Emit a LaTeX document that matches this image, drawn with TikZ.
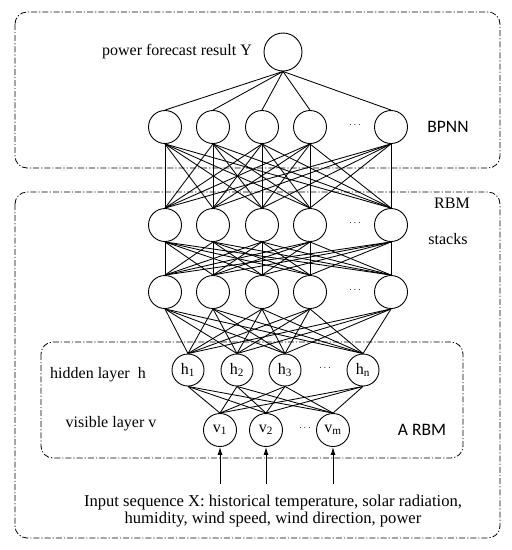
\documentclass[tikz,border=0pt]{standalone}
\usepackage{fontspec}
\setmainfont{Liberation Serif}
\newfontfamily\sansf{Carlito}
\usetikzlibrary{arrows.meta}
\begin{document}
\begin{tikzpicture}[x=1pt,y=-1pt,
  neuron/.style={circle,draw,line width=0.9pt,minimum size=33pt,inner sep=0pt,font=\fontsize{16}{18}\selectfont},
  link/.style={line width=0.85pt},
  frame/.style={draw,line width=0.8pt,rounded corners=12pt,dash pattern=on 6pt off 2pt on 1.2pt off 2pt},
  lbl/.style={font=\fontsize{16}{18}\selectfont,inner sep=0pt},
  slbl/.style={font=\sansf\fontsize{17.5}{19}\selectfont,inner sep=0pt},
  dotsn/.style={font=\fontsize{10}{12}\selectfont,inner sep=0pt},
  inarrow/.style={line width=1pt,-{Latex[length=8pt,width=5pt]}}
]
\useasboundingbox (0,0) rectangle (512,550);
% frames
\draw[frame] (15,12) rectangle (500,168);
\draw[frame] (15,192) rectangle (500,538);
\draw[frame] (41,342) rectangle (463,458);
% output
\node[neuron,minimum size=38pt] (out) at (283,52) {};
\node[lbl] (outl) at (177,52) {power forecast result Y};
% BPNN layer
\foreach \x [count=\i] in {165,213,262,310,391}
  \node[neuron] (b\i) at (\x,127) {};
\node[dotsn] (bd) at (355,125) {$\cdots$};
\node[slbl] (bpnn) at (448,127) {BPNN};
% stack layer 1
\foreach \x [count=\i] in {165,213,262,310,391}
  \node[neuron] (s\i) at (\x,225) {};
\node[dotsn] (sd) at (355,223) {$\cdots$};
% stack layer 2
\foreach \x [count=\i] in {165,213,262,310,391}
  \node[neuron] (t\i) at (\x,292) {};
\node[dotsn] (td) at (355,290) {$\cdots$};
\node[lbl] (rbm) at (452,203) {RBM};
\node[lbl] (stk) at (448,239) {stacks};
% hidden layer
\foreach \x/\s [count=\i] in {188/1,237/2,285/3,363/n}
  \node[neuron,minimum size=32pt] (h\i) at (\x,370) {h\textsubscript{\s}};
\node[dotsn] (hd) at (325,368) {$\cdots$};
\node[lbl] (hl) at (98,375) {hidden layer\ \ h};
% visible layer
\foreach \x/\s [count=\i] in {220/1,266/2,333/m}
  \node[neuron] (v\i) at (\x,430) {v\textsubscript{\s}};
\node[dotsn] (vd) at (305,428) {$\cdots$};
\node[lbl] (vl) at (111,424) {visible layer v};
\node[slbl] (arbm) at (422,430) {A RBM};
% connections
\foreach \i in {1,...,5} \draw[link] (out.south) -- (b\i.north);
\foreach \i in {1,...,5} \foreach \j in {1,...,5} \draw[link] (b\i.south) -- (s\j.north);
\foreach \i in {1,...,5} \foreach \j in {1,...,5} \draw[link] (s\i.south) -- (t\j.north);
\foreach \i in {1,...,5} \foreach \j in {1,...,4} \draw[link] (t\i.south) -- (h\j.north);
\foreach \i in {1,...,4} \foreach \j in {1,...,3} \draw[link] (h\i.south) -- (v\j.north);
% inputs
\foreach \x [count=\i] in {220,266,333} {
  \coordinate (in\i) at (\x,484);
  \draw[inarrow] (in\i) -- (v\i.south);
}
\node[lbl,align=center,font=\fontsize{16.6}{16.7}\selectfont] (inp) at (273,511)
  {Input sequence X: historical temperature, solar radiation,\\humidity, wind speed, wind direction, power};
\end{tikzpicture}
\end{document}
